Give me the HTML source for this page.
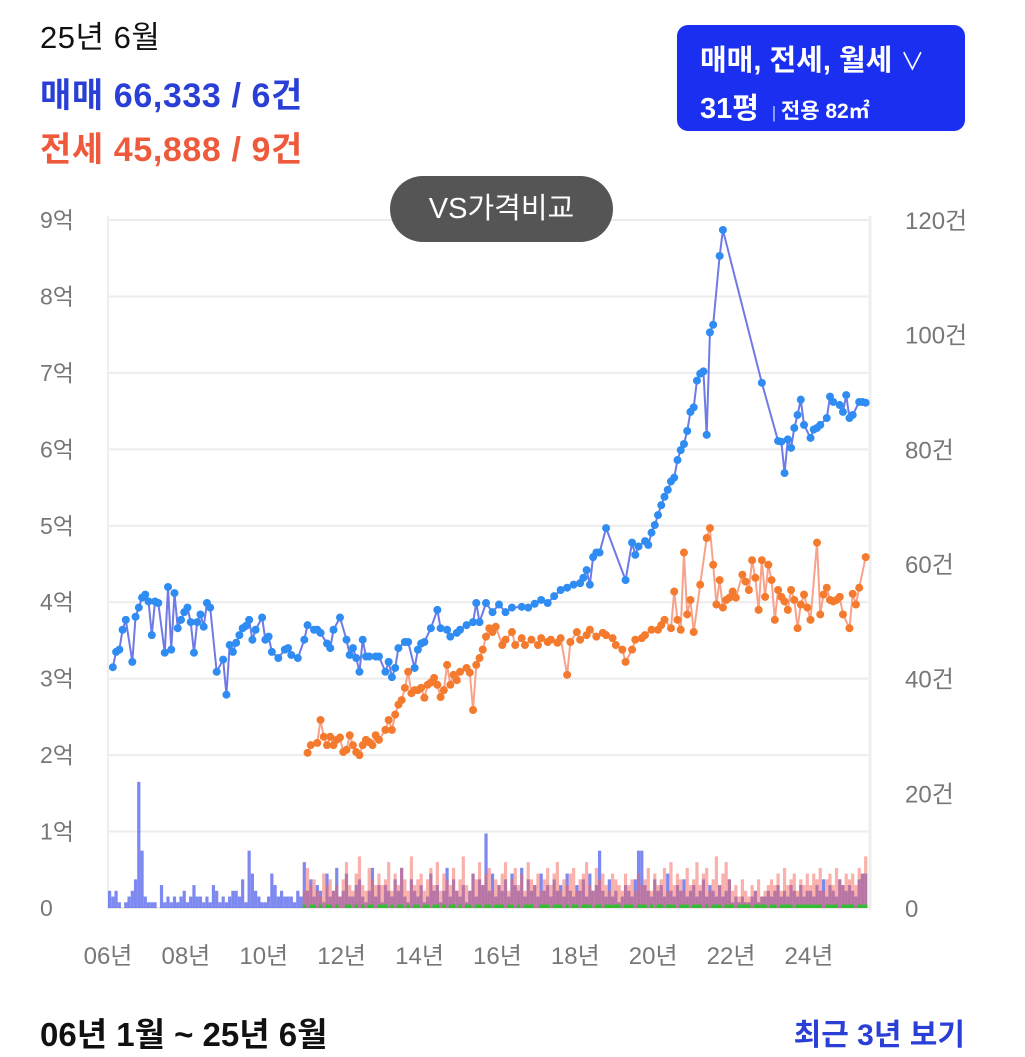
<!DOCTYPE html>
<html><head><meta charset="utf-8">
<style>
body{margin:0;width:1025px;height:1057px;background:#fff;overflow:hidden;font-family:"Liberation Sans","Noto Sans CJK KR",sans-serif;position:relative}
.abs{position:absolute;white-space:nowrap}
</style></head><body>
<svg id="chart" class="abs" style="left:0;top:0" width="1025" height="1057"></svg>

<div class="abs" style="left:40px;top:12px;font-size:31px;letter-spacing:0.5px;color:#111">25년 6월</div>
<div class="abs" style="left:40px;top:68px;font-size:34px;letter-spacing:0.6px;font-weight:bold;color:#2a3fd6">매매 66,333 / 6건</div>
<div class="abs" style="left:40px;top:122px;font-size:34px;letter-spacing:0.6px;font-weight:bold;color:#f05a3c">전세 45,888 / 9건</div>
<div class="abs" style="left:677px;top:25px;width:288px;height:106px;background:#1a2ff0;border-radius:11px;color:#fff">
  <div class="abs" style="left:23px;top:12px;font-size:29px;font-weight:bold">매매, 전세, 월세 <span style="font-weight:normal;font-size:24px">&#8744;</span></div>
  <div class="abs" style="left:23px;top:60px;font-size:29px;font-weight:bold">31평 <span style="font-size:17px;opacity:.7;font-weight:normal">&nbsp;|&nbsp;</span><span style="font-size:21px">전용 82㎡</span></div>
</div>
<div class="abs" style="left:390px;top:176px;width:223px;height:66px;background:#555;border-radius:33px;color:#fff;font-size:29px;text-align:center;line-height:66px">VS가격비교</div>

<div class="abs" style="left:40px;top:1008px;font-size:33px;font-weight:bold;color:#111">06년 1월 ~ 25년 6월</div>
<div class="abs" style="right:60px;top:1010px;font-size:30px;font-weight:bold;color:#2a3fd6">최근 3년 보기</div>

<script>
const saleMonths=[1,2,3,4,5,7,8,9,10,11,12,13,14,15,17,18,19,20,21,22,23,24,25,26,27,28,29,30,31,33,35,36,37,38,39,40,41,42,43,44,45,47,48,49,50,52,54,55,56,58,60,61,63,64,65,67,68,69,71,73,74,75,76,77,78,79,80,82,83,85,86,87,88,89,91,92,94,95,96,97,99,101,102,104,105,107,108,110,112,113,114,116,118,120,122,124,127,129,131,133,135,137,139,141,143,145,146,147,148,149,150,151,153,159,161,162,163,165,166,167,168,169,170,171,172,173,174,175,176,177,178,179,180,181,182,183,184,185,186,188,189,201,206,207,208,209,210,211,212,213,214,216,217,218,219,221,222,223,225,226,227,228,229,231,232,233];
const saleValues=[3.15,3.35,3.38,3.64,3.77,3.22,3.81,3.93,4.06,4.10,4.01,3.57,4.01,3.99,3.34,4.20,3.38,4.12,3.66,3.77,3.87,3.93,3.74,3.34,3.74,3.84,3.68,3.99,3.93,3.09,3.25,2.79,3.44,3.35,3.47,3.57,3.66,3.69,3.77,3.51,3.64,3.80,3.51,3.55,3.35,3.27,3.38,3.40,3.31,3.27,3.51,3.70,3.64,3.64,3.60,3.46,3.40,3.64,3.80,3.51,3.31,3.40,3.27,3.09,3.51,3.29,3.29,3.29,3.29,3.09,3.22,3.02,3.14,3.40,3.48,3.48,3.14,3.38,3.46,3.48,3.66,3.90,3.66,3.64,3.55,3.60,3.64,3.70,3.74,3.99,3.74,3.99,3.87,3.97,3.87,3.93,3.94,3.93,3.98,4.03,3.99,4.08,4.16,4.19,4.23,4.25,4.32,4.42,4.23,4.59,4.65,4.65,4.97,4.29,4.78,4.62,4.73,4.80,4.75,4.91,5.01,5.14,5.27,5.38,5.47,5.58,5.63,5.86,5.99,6.07,6.24,6.49,6.55,6.90,6.99,7.02,6.19,7.53,7.63,8.53,8.87,6.87,6.11,6.10,5.69,6.13,6.02,6.28,6.45,6.65,6.32,6.15,6.26,6.28,6.32,6.41,6.69,6.62,6.58,6.49,6.71,6.41,6.45,6.62,6.62,6.61];
const rentMonths=[61,62,64,65,66,67,68,69,70,71,72,73,74,75,76,77,78,79,80,81,82,83,85,86,87,88,89,90,91,92,93,94,95,96,97,98,99,100,101,102,103,104,105,106,107,108,110,111,112,113,114,115,116,117,118,119,121,122,124,125,127,128,130,132,133,135,136,138,139,141,142,144,145,147,148,150,152,153,155,156,158,159,161,162,164,165,167,169,170,171,173,174,175,176,177,178,179,180,182,184,185,186,187,188,189,190,191,192,193,195,196,197,198,199,200,201,202,203,204,205,206,207,208,209,210,211,212,213,214,215,216,218,219,220,221,222,223,224,225,226,228,229,230,231,233];
const rentValues=[2.03,2.13,2.16,2.46,2.24,2.13,2.24,2.13,2.20,2.23,2.04,2.07,2.26,2.13,2.04,2.00,2.13,2.20,2.17,2.13,2.26,2.20,2.33,2.46,2.33,2.53,2.66,2.72,2.88,3.09,2.81,2.85,2.85,2.88,2.75,2.92,2.95,3.01,2.92,2.76,2.85,3.18,2.92,3.05,2.98,3.09,3.14,3.08,2.59,3.18,3.27,3.38,3.55,3.66,3.61,3.68,3.44,3.51,3.61,3.44,3.53,3.44,3.51,3.44,3.53,3.48,3.51,3.47,3.53,3.05,3.48,3.61,3.51,3.57,3.64,3.55,3.60,3.57,3.53,3.44,3.38,3.22,3.38,3.51,3.53,3.57,3.64,3.64,3.70,3.77,3.66,4.14,3.77,3.64,4.65,3.84,4.03,3.61,4.23,4.84,4.97,4.49,3.97,4.29,3.93,4.03,4.06,4.14,4.06,4.36,4.27,4.16,4.55,4.32,3.90,4.55,4.07,4.49,4.29,3.77,4.16,4.07,4.01,3.90,4.16,4.03,3.66,3.97,4.10,3.93,3.77,4.78,3.84,4.10,4.19,4.03,4.01,4.03,4.07,3.84,3.66,4.11,3.97,4.19,4.59];
const saleCounts=[3,2,3,1,0,1,2,3,5,22,10,2, 1,1,1,0,4,1,2,1,2,1,2,3, 1,2,4,2,2,1,2,1,4,3,1,2, 1,2,3,3,2,5,1,10,6,3,2,1, 1,2,6,4,2,3,2,2,2,1,3,2, 8,3,5,2,4,3,1,6,2,3,7,2, 3,6,2,2,4,5,2,1,3,7,2,4, 1,4,3,2,5,3,7,2,1,5,3,2, 4,1,2,6,3,4,1,3,7,2,5,3, 2,4,1,3,6,2,5,4,13,3,6,2, 4,3,5,2,6,4,3,7,2,5,3,4, 2,6,3,4,2,5,3,4,2,6,3,2, 4,3,5,2,6,3,4,10,3,2,5,2, 3,1,2,4,3,2,5,10,10,4,3,2, 5,3,4,2,6,3,2,4,3,5,2,3, 4,2,3,5,2,4,3,2,4,2,3,5, 1,2,1,2,1,1,2,3,1,2,2,3, 2,3,4,2,3,2,4,3,2,4,2,3, 3,2,4,3,5,2,4,3,2,5,4,3, 4,3,2,5,6,6];
const rentCountStart=60;
const rentCounts=[3,7,4,5,3,2,6,4,5,3,4,2, 5,8,4,3,6,9,4,3,7,5,4,6, 4,5,8,3,6,4,7,5,3,9,4,5, 6,3,5,7,4,8,3,6,5,4,7,3, 5,9,4,3,6,5,8,4,6,7,3,5, 4,6,8,3,5,7,4,6,3,8,5,4, 6,3,5,7,4,6,8,3,5,4,6,7, 3,5,6,8,4,3,7,5,6,4,3,6, 5,4,3,6,4,5,3,6,4,5,7,3, 6,4,5,7,3,8,4,6,5,3,7,4, 5,8,4,6,7,3,5,9,4,6,8,5, 3,4,2,5,3,2,4,3,5,2,3,4, 5,4,6,3,7,4,5,6,3,5,4,6, 4,6,5,7,3,5,6,4,7,5,4,6, 5,6,4,7,6,9];
const monthlyCounts=[1,0,1,1,0,1,0,1,1,0,1,0, 0,1,1,0,1,0,1,0,1,1,0,1, 1,1,0,1,0,1,1,0,1,0,1,1, 0,1,1,0,1,1,0,1,0,1,1,0, 1,0,1,1,0,1,1,0,1,1,0,1, 1,1,0,1,1,0,1,0,1,1,1,0, 0,1,1,1,0,1,1,1,0,1,0,1, 1,0,1,1,1,0,1,1,0,1,1,1, 1,1,0,1,1,1,0,1,1,1,0,1, 0,1,1,0,1,1,1,0,1,1,1,0, 1,1,1,0,1,0,1,1,1,0,1,1, 1,0,1,1,1,1,0,1,1,1,1,0, 1,1,0,1,1,1,1,0,1,1,1,1, 1,1,1,1,0,1,1,1,1,0,1,1, 1,1,0,1,1,1];
const leftTicks=["0","1억","2억","3억","4억","5억","6억","7억","8억","9억"];
const rightTicks=["0","20건","40건","60건","80건","100건","120건"];
const xTicks=["06년","08년","10년","12년","14년","16년","18년","20년","22년","24년"];

const NS="http://www.w3.org/2000/svg";
const svg=document.getElementById('chart');
const X0=108,PX_M=3.245,Y0=908,PX_EOK=76.44,PX_CNT=5.733;
const FONT='Liberation Sans, Noto Sans CJK KR, sans-serif';
const xM=m=>X0+m*PX_M+1.6;
const yV=v=>Y0-v*PX_EOK;
const yC=c=>Y0-c*PX_CNT;
function mk(t,a){const e=document.createElementNS(NS,t);for(const k in a)e.setAttribute(k,a[k]);svg.appendChild(e);return e;}

leftTicks.forEach((t,i)=>{
  const g=mk('line',{x1:X0,x2:868,y1:yV(i),y2:yV(i),stroke:'#ececec','stroke-width':2});
  
  
  const tx=mk('text',{x:40,y:yV(i)+8,'font-size':23,fill:'#777','font-family':FONT});
  tx.textContent=t;
  
  
});
rightTicks.forEach((t,i)=>{
  const tx=mk('text',{x:905,y:yC(i*20)+9,'font-size':24,fill:'#777','font-family':FONT});
  tx.textContent=t;
  
  
});
const lb=mk('line',{x1:X0,x2:X0,y1:216,y2:910,stroke:'#eee','stroke-width':2});


const rb=mk('line',{x1:870,x2:870,y1:216,y2:910,stroke:'#eee','stroke-width':3});


xTicks.forEach((t,i)=>{
  const tx=mk('text',{x:X0+i*24*PX_M,y:964,'font-size':24,fill:'#777','text-anchor':'middle','font-family':FONT});
  tx.textContent=t;
  
  
});

saleCounts.forEach((c,m)=>{
  if(!c)return;
  const r=mk('rect',{x:xM(m)-1.6,y:yC(c),width:3.2,height:c*PX_CNT,fill:'rgba(70,85,235,0.7)'});
  
  
});
rentCounts.forEach((c,i)=>{
  if(!c)return;
  const m=i+rentCountStart;
  const r=mk('rect',{x:xM(m)-1.6,y:yC(c),width:3.2,height:c*PX_CNT,fill:'rgba(245,100,90,0.5)'});
  
  
});
monthlyCounts.forEach((c,i)=>{
  if(!c)return;
  const m=i+rentCountStart;
  const r=mk('rect',{x:xM(m)-1.6,y:yC(c*0.6),width:3.2,height:c*0.6*PX_CNT,fill:'#2fbf2f'});
  
  
});

function series(ms,vs,lineColor,dotColor,name){
  const p=mk('polyline',{points:ms.map((m,i)=>xM(m)+','+yV(vs[i])).join(' '),fill:'none',stroke:lineColor,'stroke-width':2});
  
  
  ms.forEach((m,i)=>{
    const c=mk('circle',{cx:xM(m),cy:yV(vs[i]),r:4,fill:dotColor});
    
    
  });
}
series(rentMonths,rentValues,'#f7a38c','#f47a2e','jeonse-price');
series(saleMonths,saleValues,'#6f7ae6','#2f8cf2','sale-price');
</script>
</body></html>
